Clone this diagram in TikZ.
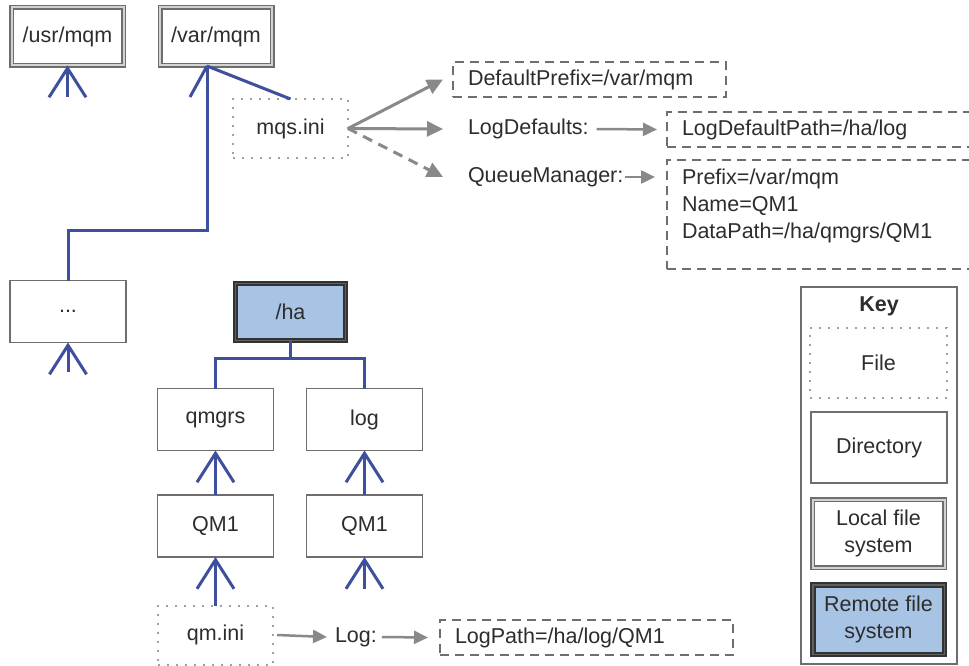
\documentclass[tikz,border=0pt]{standalone}
\usepackage{fontspec}
\setmainfont{Liberation Sans}
\usetikzlibrary{arrows.meta}
\definecolor{treeblue}{RGB}{62,79,158}
\definecolor{arrgray}{RGB}{135,137,140}
\definecolor{boxgray}{RGB}{110,110,110}
\definecolor{dotgray}{RGB}{160,160,160}
\definecolor{txt}{RGB}{45,45,45}
\definecolor{remblue}{RGB}{168,196,229}
\begin{document}
\begin{tikzpicture}[x=1pt,y=-1pt,
  every node/.style={font=\fontsize{21.5}{27}\selectfont, text=txt, outer sep=0pt},
  dirbox/.style={draw=boxgray, line width=1.5pt, fill=white, inner sep=0pt, minimum width=116pt, minimum height=62pt},
  localfs/.style={draw=boxgray, line width=1.5pt, double=gray!35, double distance=2pt, fill=white, inner sep=0pt, minimum width=112pt, minimum height=58pt},
  remotefs/.style={draw=gray!40!black, line width=2pt, double=gray!75!black, double distance=1.5pt, fill=remblue, inner sep=0pt, minimum width=110pt, minimum height=57pt},
  filebox/.style={draw=dotgray, line width=2pt, dash pattern=on 2pt off 7pt, inner sep=0pt, minimum width=115pt, minimum height=59pt},
  cfgbox/.style={draw=boxgray, line width=1.8pt, dash pattern=on 9pt off 6pt, inner xsep=15pt, inner ysep=0pt, minimum height=35pt, align=left, anchor=west},
  lbl/.style={inner sep=0pt, anchor=west},
  tree/.style={draw=treeblue, line width=3pt},
  treearrow/.style={tree, -{Straight Barb[length=29pt, width=37pt]}},
  garrow/.style={draw=arrgray, line width=3pt, -{Triangle[length=16pt,width=15pt]}},
  sgarrow/.style={draw=arrgray, line width=2.5pt, -{Triangle[length=14pt,width=13pt]}}
]
\useasboundingbox (0,0) rectangle (969,666);
\fill[white] (0,0) rectangle (969,666);

% file systems and directories
\node[localfs] (usr) at (67.5,36.5) {/usr/mqm};
\node[localfs] (var) at (216,36.5) {/var/mqm};
\node[filebox] (mqs) at (290.5,128.5) {mqs.ini};
\node[dirbox] (dots) at (68,311.5) {...};
\node[remotefs] (ha) at (290.5,312) {/ha};
\node[dirbox] (qmgrs) at (215.5,419.5) {qmgrs};
\node[dirbox] (log) at (364.5,419.5) {log};
\node[dirbox] (qma) at (215.5,526) {QM1};
\node[dirbox] (qmb) at (364.5,526) {QM1};
\node[filebox] (qmini) at (215.5,635) {qm.ini};

% configuration entries
\node[cfgbox, text width=243pt] (dp) at (453,79.5) {DefaultPrefix=/var/mqm};
\node[lbl] (ldl) at (468,129) {LogDefaults:};
\node[cfgbox, text width=300pt] (ldp) at (667,129.5) {LogDefaultPath=/ha/log};
\node[lbl] (qml) at (468,177) {QueueManager:};
\node[draw=boxgray, line width=1.8pt, dash pattern=on 9pt off 6pt, minimum width=330pt, minimum height=109pt, anchor=north west, inner sep=0pt] (qmbox) at (667,160) {};
\node[inner sep=0pt, anchor=north west, align=left] (qmtext) at (682,169) {Prefix=/var/mqm\\Name=QM1\\DataPath=/ha/qmgrs/QM1};
\node[lbl] (logl) at (335,637) {Log:};
\node[cfgbox, text width=263pt] (logpath) at (440,637.5) {LogPath=/ha/log/QM1};

% key
\node[draw=boxgray, line width=1.5pt, minimum width=156pt, minimum height=377pt, anchor=north west, inner sep=0pt] (keybox) at (801,287) {};
\node[font=\fontsize{21.5}{27}\selectfont\bfseries] (keyt) at (879,306) {Key};
\node[filebox, minimum width=137pt, minimum height=70pt] (kfile) at (878.5,363) {File};
\node[dirbox, minimum width=136pt, minimum height=71pt] (kdir) at (879,447.5) {Directory};
\node[localfs, minimum width=132pt, minimum height=68pt, align=center] (klocal) at (878.5,533.5) {Local file\\system};
\node[remotefs, minimum width=131.5pt, minimum height=69.5pt, align=center] (kremote) at (878.5,619.5) {Remote file\\system};

% tree connectors
\coordinate (usrtail) at (67.5,97);
\draw[treearrow] (usrtail) -- (usr.south);
\coordinate (vartip) at (207,66);
\coordinate (bend) at (207,230);
\draw[tree] (vartip) -- ++(-17,31);
\draw[tree] (vartip) -- (mqs.north);
\draw[tree] (vartip) -- (bend) -| (dots.north);
\coordinate (dotstail) at (68,372);
\draw[treearrow] (dotstail) -- (dots.south);
\coordinate (hj) at (290.5,358);
\draw[tree] (ha.south) -- (hj);
\draw[tree] (qmgrs.north) |- (hj) -| (log.north);
\draw[treearrow] (qma.north) -- (qmgrs.south);
\draw[treearrow] (qmb.north) -- (log.south);
\draw[treearrow] (qmini.north) -- (qma.south);
\coordinate (qmbtail) at (364.5,589);
\draw[treearrow] (qmbtail) -- (qmb.south);

% configuration arrows
\draw[garrow] (mqs.east) -- ([xshift=-10pt]dp.west);
\draw[garrow] (mqs.east) -- ([xshift=-25pt]ldl.west);
\draw[garrow, dash pattern=on 10pt off 7pt] (mqs.east) -- ([xshift=-25pt]qml.west);
\draw[sgarrow] ([xshift=8pt]ldl.east) -- ([xshift=-10pt]ldp.west);
\draw[sgarrow, shorten >=12pt] ([xshift=2pt]qml.east) -- (qml.east -| qmbox.west);
\draw[sgarrow] ([xshift=4pt]qmini.east) -- ([xshift=-8pt]logl.west);
\draw[sgarrow] ([xshift=5pt]logl.east) -- ([xshift=-12pt]logpath.west);
\end{tikzpicture}
\end{document}
